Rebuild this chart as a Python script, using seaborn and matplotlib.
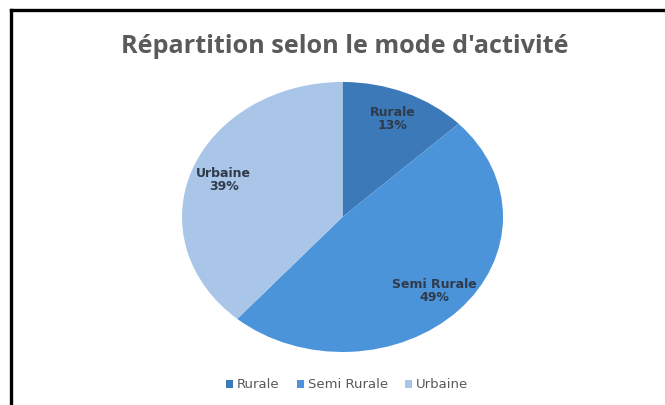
import matplotlib
matplotlib.use("Agg")
import matplotlib.pyplot as plt
from matplotlib.lines import Line2D
from matplotlib.patches import Patch
import seaborn as sns

categories = ["Rurale", "Semi Rurale", "Urbaine"]
values = [13, 49, 39]
colors = ["#3c79b9", "#4b94da", "#a9c6e8"]
title = "Répartition selon le mode d'activité"

sns.set_theme(style="white")
plt.rcParams['font.family'] = ['DejaVu Sans']

fig = plt.figure(figsize=(6.65, 4.05), dpi=100)
fig.patch.set_facecolor("white")
ax = fig.add_axes([0.2737, 0.1309, 0.4827, 0.6667])

label_iter = iter(zip(categories, values))
def fmt(_pct):
    c, v = next(label_iter)
    return f"{c}\n{v}%"

wedges, texts, autotexts = ax.pie(
    values, colors=colors, startangle=90, counterclock=False,
    autopct=fmt, pctdistance=0.79, radius=1,
    wedgeprops=dict(linewidth=0),
    textprops=dict(color="#2f3a4a", fontsize=9, fontweight="bold", linespacing=1.0),
)
ax.set_aspect("auto")
ax.set_xlim(-1, 1)
ax.set_ylim(-1, 1)
ax.axis("off")

fig.text(0.518, 0.884, title, ha="center", va="center", fontsize=18.2,
         fontweight="bold", color="#5a5a5a", family=["Open Sans", "DejaVu Sans"])

handles = [Patch(facecolor=c, edgecolor="none") for c in colors]
fig.legend(handles, categories, loc="center", bbox_to_anchor=(0.522, 0.05),
           ncol=3, frameon=False, fontsize=9.5, handlelength=0.55, handleheight=0.55,
           handletextpad=0.3, columnspacing=1.3, labelcolor="#595959")

fig.add_artist(Line2D([0.0158, 0.0158], [0.0, 0.975], transform=fig.transFigure,
                      color="black", linewidth=2.4, solid_capstyle="projecting"))
fig.add_artist(Line2D([0.0158, 1.0], [0.975, 0.975], transform=fig.transFigure,
                      color="black", linewidth=2.4, solid_capstyle="projecting"))

fig.savefig("out.png", dpi=100, facecolor="white")
